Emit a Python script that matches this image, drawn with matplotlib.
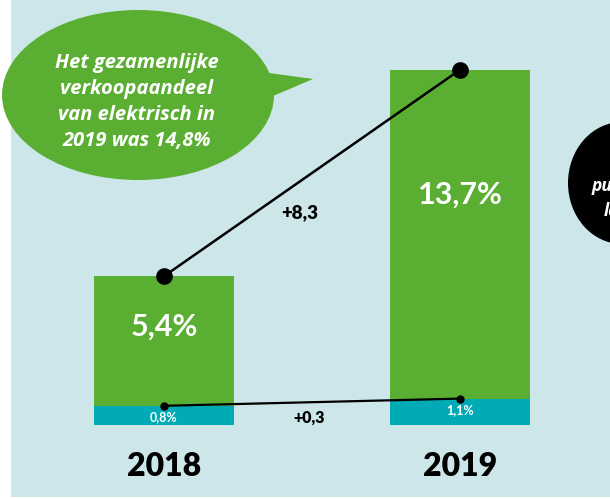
import matplotlib
matplotlib.use("Agg")
from matplotlib import pyplot as plt
from matplotlib.patches import Ellipse, Polygon, Rectangle

# data
years = ["2018", "2019"]
share_phev = [0.8, 1.1]      # teal, lower segment
share_bev = [5.4, 13.7]      # green, upper segment
label_phev = ["0,8%", "1,1%"]
label_bev = ["5,4%", "13,7%"]
delta_total = "+8,3"
delta_phev = "+0,3"
bubble_text = "Het gezamenlijke\nverkoopaandeel\nvan elektrisch in\n2019 was 14,8%"

green = "#5aaf32"
teal = "#00abb6"
bg = "#cde6ea"
font = "Lato"
font_wide = "Open Sans"

fig = plt.figure(figsize=(6.10, 4.99), dpi=100, facecolor="white")

# decoration axes in pixel coordinates (background + speech bubbles)
deco = fig.add_axes([0, 0, 1, 1], zorder=0)
deco.set_xlim(0, 610)
deco.set_ylim(499, 0)
deco.axis("off")
deco.add_patch(Rectangle((11, 0), 600, 497, facecolor=bg, edgecolor="none", zorder=0))

deco.add_patch(Ellipse((138, 95), 272, 170, facecolor=green, edgecolor="none", zorder=1))
deco.add_patch(Polygon([(262, 72), (313, 79), (266, 99)], closed=True,
                       facecolor=green, edgecolor="none", zorder=1))
deco.text(137, 102, bubble_text, color="white", fontsize=14.5, fontweight="bold",
          fontstyle="italic", family=font_wide, ha="center", va="center",
          linespacing=1.42, zorder=2)

deco.add_patch(Ellipse((622, 183), 108, 122, facecolor="black", edgecolor="none", zorder=1))
deco.text(592, 186, "publieke", color="white", fontsize=12.5, fontweight="bold",
          fontstyle="italic", family=font_wide, ha="left", va="center", clip_on=True, zorder=2)
deco.text(604, 211, "laadpunten", color="white", fontsize=12.5, fontweight="bold",
          fontstyle="italic", family=font_wide, ha="left", va="center", clip_on=True, zorder=2)

# data axes: x = year index, y = percent (24 px per percent, baseline at y=425 px)
ax = fig.add_axes([0, 0, 1, 1], zorder=1)
ax.patch.set_alpha(0)
ax.set_xlim(-164 / 296, (610 - 164) / 296)
ax.set_ylim(-74 / 24, 425 / 24)
ax.axis("off")

x = [0, 1]
bw = 140 / 296
ax.bar(x, share_phev, width=bw, color=teal, zorder=2)
ax.bar(x, share_bev, width=bw, bottom=share_phev, color=green, zorder=2)

tops = [a + b for a, b in zip(share_phev, share_bev)]
ax.plot(x, tops, color="black", lw=1.8, marker="o", ms=11, zorder=4)
ax.plot(x, share_phev, color="black", lw=1.6, marker="o", ms=5, zorder=4)

ax.text(0, 4.1, label_bev[0], color="white", fontsize=22, fontweight="bold",
        family=font, ha="center", va="center", zorder=5)
ax.text(1, 9.6, label_bev[1], color="white", fontsize=22, fontweight="bold",
        family=font, ha="center", va="center", zorder=5)
ax.text(0, 0.33, label_phev[0], color="white", fontsize=9, fontweight="bold",
        family=font, ha="center", va="center", zorder=5)
ax.text(1, 0.62, label_phev[1], color="white", fontsize=9, fontweight="bold",
        family=font, ha="center", va="center", zorder=5)
ax.text(0.46, 8.87, delta_total, color="black", fontsize=13.5, fontweight="heavy",
        family=font, ha="center", va="center", zorder=5)
ax.text(0.49, 0.3, delta_phev, color="black", fontsize=11.5, fontweight="heavy",
        family=font, ha="center", va="center", zorder=5)
for i, yr in enumerate(years):
    ax.text(i, -1.75, yr, color="black", fontsize=23, fontweight="heavy",
            family=font, ha="center", va="center", zorder=5)

fig.savefig("out.png", dpi=100, facecolor=fig.get_facecolor())
